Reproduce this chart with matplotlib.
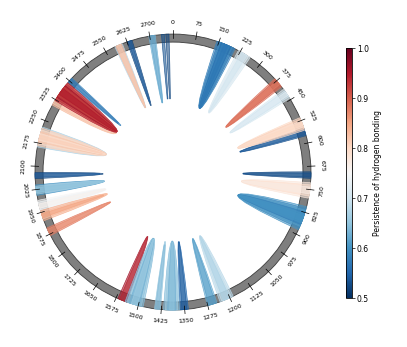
import numpy as np
import matplotlib
matplotlib.use('Agg')
import matplotlib.pyplot as plt
from matplotlib.path import Path
from matplotlib.patches import PathPatch, Wedge
from matplotlib.colors import Normalize
from matplotlib.cm import ScalarMappable

# ---------------- data ----------------
total_length = 2775
tick_values = list(range(0, 2701, 75))

link_start = [2738, 2752, 2697, 2701, 2625, 2629, 2583, 2586, 2590,
              2393, 2397,
              2305, 2310, 2322, 2328, 2334, 2340, 2346,
              2162, 2166, 2172, 2178, 2184, 2190,
              2060, 2064,
              2006, 2010, 2015,
              1952, 1958, 1964,
              1922, 1928, 1933,
              1870, 1875,
              1538, 1544,
              1484, 1490, 1497, 1503,
              1428, 1432,
              1366, 1372, 1378, 1384,
              1338, 1343,
              1244, 1249,
              1188, 1194, 1200,
              806, 812, 818, 824, 830, 836,
              728, 735, 742,
              693, 697,
              552, 556,
              515, 520, 526, 531,
              410, 416, 421,
              366, 371, 376,
              218, 224, 230,
              143, 148, 153, 158, 163, 168]
link_end = [2747, 2762, 2718, 2714, 2642, 2638, 2609, 2606, 2602,
            2412, 2408,
            2390, 2386, 2392, 2386, 2380, 2374, 2368,
            2228, 2224, 2218, 2212, 2206, 2200,
            2080, 2076,
            2040, 2036, 2031,
            1990, 1984, 1978,
            1956, 1950, 1945,
            1897, 1892,
            1569, 1563,
            1544, 1538, 1530, 1523,
            1447, 1444,
            1418, 1412, 1405, 1398,
            1364, 1359,
            1276, 1271,
            1234, 1228, 1222,
            884, 878, 872, 866, 860, 854,
            778, 771, 764,
            714, 710,
            576, 572,
            558, 553, 547, 542,
            445, 439, 434,
            400, 395, 390,
            262, 256, 250,
            206, 201, 196, 191, 186, 181]
link_persistence = [0.53, 0.52, 0.63, 0.62, 0.52, 0.54, 0.68, 0.83, 0.82,
                    0.58, 0.57,
                    0.83, 0.82, 0.95, 0.93, 0.96, 0.92, 0.95,
                    0.67, 0.81, 0.80, 0.82, 0.79, 0.81,
                    0.52, 0.54,
                    0.60, 0.66, 0.65,
                    0.75, 0.74, 0.76,
                    0.84, 0.83, 0.85,
                    0.88, 0.87,
                    0.96, 0.94,
                    0.64, 0.65, 0.63, 0.66,
                    0.65, 0.64,
                    0.64, 0.66, 0.63, 0.65,
                    0.55, 0.54,
                    0.62, 0.61,
                    0.68, 0.69, 0.67,
                    0.60, 0.59, 0.61, 0.58, 0.60, 0.60,
                    0.78, 0.79, 0.77,
                    0.52, 0.53,
                    0.53, 0.54,
                    0.80, 0.81, 0.79, 0.80,
                    0.71, 0.70, 0.72,
                    0.89, 0.90, 0.88,
                    0.71, 0.72, 0.70,
                    0.58, 0.57, 0.59, 0.56, 0.58, 0.57]

cbar_ticks = [0.5, 0.6, 0.7, 0.8, 0.9, 1.0]
cbar_label = 'Persistence of hydrogen bonding'

# ---------------- drawing ----------------
cmap = plt.get_cmap('RdBu_r')
norm = Normalize(vmin=0.5, vmax=1.0)

fig = plt.figure(figsize=(4.07, 3.47), dpi=100)
ax = fig.add_axes([0.0012, 0.0072, 0.8477, 0.994])
ax.set_xlim(-1.25, 1.25)
ax.set_ylim(-1.25, 1.25)
ax.set_aspect('equal')
ax.axis('off')

R_out = 1.0
R_in = 0.942


def ang(p):
    return np.pi / 2 - 2 * np.pi * p / total_length


ring = Wedge((0, 0), R_out, 0, 360, width=R_out - R_in,
             facecolor='#7f7f7f', edgecolor='#3c3c3c', lw=0.6, zorder=1)
ax.add_patch(ring)

for s, e, p in zip(link_start, link_end, link_persistence):
    a1, a2 = ang(s), ang(e)
    A = (R_out * np.cos(a1), R_out * np.sin(a1))
    B = (R_out * np.cos(a2), R_out * np.sin(a2))
    arc = np.linspace(a2, a1, 12)
    verts = [A, (0.0, 0.0), B] + [(R_out * np.cos(t), R_out * np.sin(t)) for t in arc[1:]] + [A]
    codes = [Path.MOVETO, Path.CURVE3, Path.CURVE3] + [Path.LINETO] * (len(arc) - 1) + [Path.CLOSEPOLY]
    col = cmap(norm(p))
    patch = PathPatch(Path(verts, codes), facecolor=(*col[:3], 0.55),
                      edgecolor=(*col[:3], 0.85), lw=0.5, zorder=2)
    ax.add_patch(patch)

for v in tick_values:
    t = ang(v)
    ax.plot([0.975 * np.cos(t), 1.03 * np.cos(t)], [0.975 * np.sin(t), 1.03 * np.sin(t)],
            color='black', lw=0.5, zorder=3)
    deg = 360.0 * v / total_length
    rot = -deg if (deg <= 90 or deg >= 270) else 180 - deg
    rl = 1.085
    ax.text(rl * np.cos(t), rl * np.sin(t), str(v), rotation=rot, rotation_mode='anchor',
            ha='center', va='center', fontsize=4.5, color='black')

cax = fig.add_axes([0.850, 0.141, 0.0147, 0.720])
sm = ScalarMappable(norm=norm, cmap=cmap)
cb = fig.colorbar(sm, cax=cax)
cb.set_ticks(cbar_ticks)
cb.ax.tick_params(labelsize=5.5, length=2, width=0.5, pad=1.5)
cb.outline.set_linewidth(0.6)
cb.set_label(cbar_label, fontsize=5.5, labelpad=3)

fig.savefig('out.png', dpi=100)
